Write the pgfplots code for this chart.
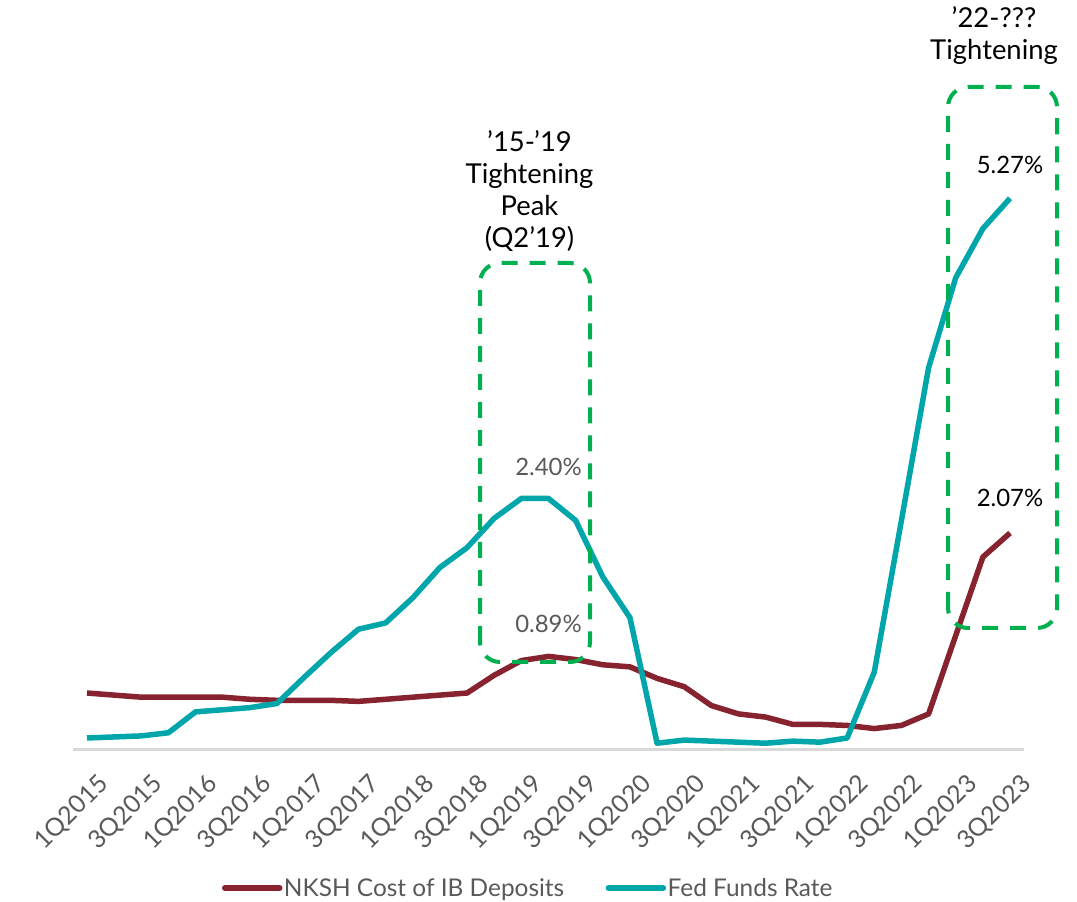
\documentclass[border=0pt]{standalone}
\usepackage{fontspec}
\setmainfont{Lato}
\usepackage{pgfplots}
\pgfplotsset{compat=1.18}
\usepackage{pgfplotstable}

\definecolor{nkshred}{HTML}{86232F}
\definecolor{fedteal}{HTML}{00A6AA}
\definecolor{boxgreen}{HTML}{00B050}
\definecolor{labelgray}{HTML}{595959}
\definecolor{axisgray}{HTML}{D9D9D9}

\newcommand\notefont{\fontsize{27.5}{32}\selectfont}
\newcommand\valuefont{\fontsize{24}{29}\selectfont}
\newcommand\tickfont{\fontsize{25}{30}\selectfont}
\newcommand\legendfont{\fontsize{24.5}{29}\selectfont}

% Quarterly rates in percent, 1Q2015 (q=0) to 3Q2023 (q=34)
\pgfplotstableread{
q  nksh  fed
0  0.54  0.11
1  0.52  0.12
2  0.50  0.13
3  0.50  0.16
4  0.50  0.36
5  0.50  0.38
6  0.48  0.40
7  0.47  0.44
8  0.47  0.69
9  0.47  0.93
10 0.46  1.15
11 0.48  1.21
12 0.50  1.45
13 0.52  1.74
14 0.54  1.93
15 0.71  2.21
16 0.85  2.40
17 0.89  2.40
18 0.86  2.19
19 0.81  1.65
20 0.79  1.26
21 0.68  0.06
22 0.60  0.09
23 0.42  0.08
24 0.34  0.07
25 0.31  0.06
26 0.24  0.08
27 0.24  0.07
28 0.23  0.11
29 0.20  0.74
30 0.23  2.19
31 0.34  3.65
32 1.09  4.51
33 1.84  4.98
34 2.07  5.27
}\rates

\begin{document}
\begin{tikzpicture}
\useasboundingbox (0bp,0bp) rectangle (1077bp,902bp);
\begin{axis}[
  at={(73.4bp,152.5bp)}, anchor=south west,
  scale only axis, width=950.2bp, height=627.6bp,
  xmin=-0.5, xmax=34.5, ymin=0, ymax=6,
  axis x line=bottom, axis y line=none,
  x axis line style={draw=axisgray, line width=2bp, -},
  xtick={0,2,...,34},
  xticklabels={1Q2015,3Q2015,1Q2016,3Q2016,1Q2017,3Q2017,1Q2018,3Q2018,1Q2019,3Q2019,1Q2020,3Q2020,1Q2021,3Q2021,1Q2022,3Q2022,1Q2023,3Q2023},
  major tick length=0pt,
  xticklabel style={rotate=45, anchor=north east, inner sep=0pt, font=\tickfont, text=labelgray, xshift=-9bp, yshift=-23bp},
  ytick=\empty,
  clip=false,
  legend columns=2,
  legend style={at={(0.4784,-0.2207)}, anchor=center, draw=none, fill=none,
    font=\legendfont, text=labelgray, nodes={inner sep=1.5bp},
    /tikz/every even column/.append style={column sep=40bp}},
  legend image code/.code={\draw[#1, line cap=round] (0bp,0bp) -- (55bp,0bp);},
]
\addplot[nkshred, line width=5.5bp, line join=round] table[x=q, y=nksh]{\rates};
\addlegendentry{NKSH Cost of IB Deposits}
\addplot[fedteal, line width=5.5bp, line join=round] table[x=q, y=fed]{\rates};
\addlegendentry{Fed Funds Rate}

\node[font=\valuefont, text=labelgray, yshift=32bp] at (axis cs:17,2.40) {2.40\%};
\node[font=\valuefont, text=labelgray, yshift=32bp] at (axis cs:17,0.89) {0.89\%};
\node[font=\valuefont, text=black, yshift=33bp] at (axis cs:34,5.27) {5.27\%};
\node[font=\valuefont, text=black, yshift=35bp] at (axis cs:34,2.07) {2.07\%};
\end{axis}

% Tightening-cycle callouts
\draw[boxgreen, line width=4bp, dash pattern=on 16bp off 12bp, rounded corners=20bp]
  (480bp,240bp) rectangle (590bp,639bp);
\draw[boxgreen, line width=4bp, dash pattern=on 16bp off 12bp, rounded corners=20bp]
  (948bp,274bp) rectangle (1057bp,815bp);

\begin{scope}[every node/.style={font=\notefont, anchor=base, inner sep=0pt}]
\node at (529.5bp,750bp) {’15-’19};
\node at (529.5bp,718bp) {Tightening};
\node at (529.5bp,686bp) {Peak};
\node at (529.5bp,654bp) {(Q2’19)};
\node at (994bp,874bp) {’22-???};
\node at (994bp,842bp) {Tightening};
\end{scope}
\end{tikzpicture}
\end{document}
